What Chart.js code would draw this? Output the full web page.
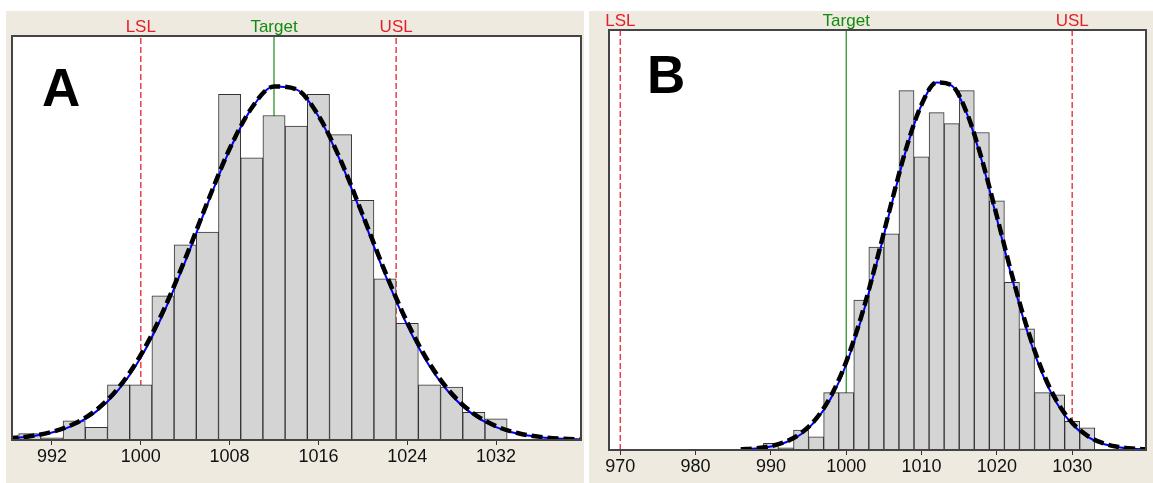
<!DOCTYPE html>
<html>
<head>
<meta charset="utf-8">
<script src="https://cdn.jsdelivr.net/npm/chart.js@4.4.0/dist/chart.umd.min.js"></script>
<style>
  html, body { margin: 0; padding: 0; background: #fff; }
  body { width: 1153px; height: 483px; position: relative; overflow: hidden; }
  canvas { position: absolute; }
  #chartA { left: 6px; top: 11px; }
  #chartB { left: 589px; top: 11px; }
</style>
</head>
<body>
<canvas id="chartA" width="578" height="472"></canvas>
<canvas id="chartB" width="564" height="472"></canvas>
<script>
// histogram: bins are 2 wide, these are the bin centres
const binCentres = [990, 992, 994, 996, 998, 1000, 1002, 1004, 1006, 1008, 1010, 1012,
                    1014, 1016, 1018, 1020, 1022, 1024, 1026, 1028, 1030, 1032];
const counts = [3, 1, 9, 6, 26, 26, 68, 92, 98, 163, 133, 153,
                148, 163, 144, 113, 76, 55, 26, 25, 13, 10];

// fitted curves
const curveX = [986, 988, 990, 992, 994, 996, 998, 1000, 1002, 1004, 1006, 1008, 1010, 1012,
                1014, 1016, 1018, 1020, 1022, 1024, 1026, 1028, 1030, 1032, 1034, 1036, 1038, 1040];
const withinFit = [0.27, 0.69, 1.61, 3.51, 7.13, 13.5, 23.7, 38.9, 59.3, 84.1, 111.1, 136.7, 156.5, 166.7,
                   165.3, 152.7, 131.2, 104.9, 78.1, 54.1, 34.9, 21.0, 11.7, 6.1, 2.95, 1.33, 0.56, 0.22];
const overallFit = [0.3, 0.77, 1.78, 3.81, 7.63, 14.2, 24.7, 40.1, 60.6, 85.4, 112.1, 137.3, 156.7, 166.7,
                    165.4, 153.0, 131.9, 106.0, 79.4, 55.5, 36.1, 21.9, 12.4, 6.54, 3.21, 1.47, 0.63, 0.25];

// spec limits
const specLabels = ['LSL', 'Target', 'USL'];
const specA = [1000, 1012, 1023];
const specB = [970, 1000, 1030];

// tick labels
const ticksA = [992, 1000, 1008, 1016, 1024, 1032];
const ticksB = [970, 980, 990, 1000, 1010, 1020, 1030];

const yTop = 190.5;
const beige = '#EEEAE0';
const specText = ['#e3202a', '#128a12', '#e3202a'];
const specLine = ['#e8404a', '#1f8a1f', '#e8404a'];

const panelPlugin = {
    id: 'panel',
    beforeDraw(chart) {
        const ctx = chart.ctx, a = chart.chartArea;
        ctx.save();
        ctx.fillStyle = beige;
        ctx.fillRect(0, 0, chart.width, chart.height);
        ctx.fillStyle = '#fff';
        ctx.fillRect(a.left, a.top, a.right - a.left, a.bottom - a.top);
        ctx.restore();
    },
    afterDraw(chart, args, o) {
        const ctx = chart.ctx, a = chart.chartArea, x = chart.scales.x;
        ctx.save();
        ctx.strokeStyle = '#444';
        ctx.lineWidth = 2;
        ctx.strokeRect(a.left, a.top, a.right - a.left, a.bottom - a.top);
        ctx.font = '17px "Liberation Sans", Arial, sans-serif';
        ctx.textAlign = 'center';
        ctx.textBaseline = 'alphabetic';
        o.spec.forEach((v, i) => {
            ctx.fillStyle = specText[i];
            ctx.fillText(specLabels[i], x.getPixelForValue(v), a.top - 4);
        });
        ctx.font = 'bold 53px "Liberation Sans", Arial, sans-serif';
        ctx.textAlign = 'left';
        ctx.fillStyle = '#000';
        ctx.fillText(o.letter, a.left + o.dx, a.top + o.dy);
        ctx.restore();
    }
};

function buildDatasets(spec) {
    const specSets = spec.map((v, i) => ({
        type: 'line',
        data: [{x: v, y: 0}, {x: v, y: yTop}],
        borderColor: specLine[i],
        borderWidth: i == 1 ? 1.2 : 1.5,
        borderDash: i == 1 ? [] : [6, 3],
        pointRadius: 0,
        order: 4
    }));
    return [{
        type: 'line',
        data: curveX.map((x, i) => ({x: x, y: overallFit[i]})),
        borderColor: '#000',
        borderWidth: 4.5,
        borderDash: [11, 5],
        pointRadius: 0,
        cubicInterpolationMode: 'monotone',
        order: 1
    }, {
        type: 'line',
        data: curveX.map((x, i) => ({x: x, y: withinFit[i]})),
        borderColor: '#0000ff',
        borderWidth: 2,
        pointRadius: 0,
        cubicInterpolationMode: 'monotone',
        order: 2
    }, {
        type: 'bar',
        data: binCentres.map((x, i) => ({x: x, y: counts[i]})),
        backgroundColor: '#d4d4d4',
        borderColor: '#333',
        borderWidth: 1,
        barPercentage: 1,
        categoryPercentage: 1,
        order: 3
    }, ...specSets];
}

function makeChart(id, cfg) {
    return new Chart(document.getElementById(id), {
        type: 'bar',
        data: { datasets: buildDatasets(cfg.spec) },
        plugins: [panelPlugin],
        options: {
            responsive: false,
            animation: false,
            events: [],
            layout: { padding: cfg.padding },
            plugins: {
                legend: { display: false },
                tooltip: { enabled: false },
                panel: { spec: cfg.spec, letter: cfg.letter, dx: cfg.dx, dy: cfg.dy }
            },
            scales: {
                x: {
                    type: 'linear',
                    min: cfg.range[0],
                    max: cfg.range[1],
                    offset: false,
                    afterBuildTicks: s => { s.ticks = cfg.ticks.map(v => ({value: v})); },
                    afterFit: s => { s.height = cfg.axisH; },
                    grid: { offset: false, drawOnChartArea: false, drawTicks: true, tickLength: 5, color: '#333', lineWidth: 1 },
                    border: { display: false },
                    ticks: {
                        padding: 1,
                        color: '#111',
                        font: { family: 'Liberation Sans', size: 18 },
                        callback: v => String(v)
                    }
                },
                y: { type: 'linear', min: 0, max: yTop, display: false }
            }
        }
    });
}

makeChart('chartA', {
    spec: specA, ticks: ticksA, range: [988.4, 1039.65], letter: 'A', dx: 30, dy: 70,
    padding: { left: 6, top: 25, right: 3, bottom: 0 }, axisH: 43
});
makeChart('chartB', {
    spec: specB, ticks: ticksB, range: [968.5, 1039.8], letter: 'B', dx: 38, dy: 63,
    padding: { left: 20, top: 19, right: 7, bottom: 0 }, axisH: 33
});
</script>
</body>
</html>
